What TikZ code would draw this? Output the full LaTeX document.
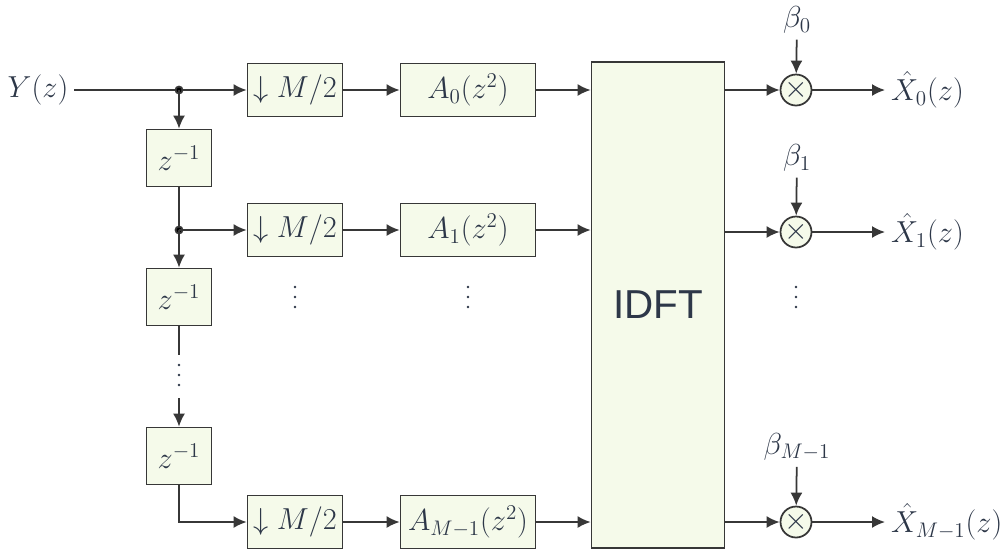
\documentclass[tikz,border=0pt]{standalone}
\usepackage{amsmath, amssymb}
\usepackage{fontspec}
\setsansfont{Liberation Sans}
\usepackage{tikz}
\usetikzlibrary{arrows.meta, calc}

\definecolor{boxfill}{RGB}{245,250,234}
\definecolor{ink}{RGB}{45,55,72}
\definecolor{wire}{RGB}{55,55,55}

\begin{document}
\begin{tikzpicture}[x=0.02cm, y=-0.02cm,
    every node/.style={text=ink, font=\fontsize{17}{20}\selectfont},
    blk/.style={draw=wire, line width=1pt, fill=boxfill, minimum height=1.06cm, inner sep=0pt},
    dnbox/.style={blk, minimum width=1.9cm},
    abox/.style={blk, minimum width=2.7cm},
    zbox/.style={blk, minimum width=1.3cm, minimum height=1.14cm},
    mult/.style={circle, draw=wire, line width=1pt, fill=boxfill, minimum size=0.48cm, inner sep=0pt},
    arr/.style={-{Latex[length=0.26cm, width=0.24cm]}, draw=wire, line width=1pt},
    wire/.style={draw=wire, line width=1pt}]
  \useasboundingbox (0,0) rectangle (1000,556);

  % Input and delay chain
  \node (y) at (38,90) {$Y(z)$};
  \node[zbox] (z1) at (179,158) {$z^{-1}$};
  \node[zbox] (z2) at (179,297) {$z^{-1}$};
  \node[zbox] (z3) at (179,456) {$z^{-1}$};

  % Branches
  \node[dnbox] (d0) at (295,90) {$\downarrow M/2$};
  \node[dnbox] (d1) at (295,230) {$\downarrow M/2$};
  \node[dnbox] (d2) at (295,522) {$\downarrow M/2$};
  \node[abox] (a0) at (468,90) {$A_0(z^2)$};
  \node[abox] (a1) at (468,230) {$A_1(z^2)$};
  \node[abox] (a2) at (468,522) {$A_{M-1}(z^2)$};

  % IDFT
  \node[blk, minimum width=2.66cm, minimum height=9.72cm] (idft) at (658,305)
    {\sffamily\fontsize{23}{26}\selectfont IDFT};

  % Weights and outputs
  \node[mult] (m0) at (796,90) {$\times$};
  \node[mult] (m1) at (796,232) {$\times$};
  \node[mult] (m2) at (796,522) {$\times$};
  \node (b0) at (797,20) {$\beta_0$};
  \node (b1) at (797,158) {$\beta_1$};
  \node (b2) at (797,447) {$\beta_{M-1}$};
  \node[anchor=west] (x0) at (885,90) {$\hat{X}_0(z)$};
  \node[anchor=west] (x1) at (885,232) {$\hat{X}_1(z)$};
  \node[anchor=west] (x2) at (885,522) {$\hat{X}_{M-1}(z)$};

  % Ellipses
  \foreach \x/\y in {295/287, 468/287, 796/287, 179/365} {
    \foreach \k in {0,10,20}
      \fill[ink] (\x,\y+\k) circle (0.028cm);
  }
  \coordinate (c2) at (179,355);
  \coordinate (c3) at (179,398);

  % Connections
  \coordinate (j0) at (z1 |- d0);
  \coordinate (j1) at (z1 |- d1);
  \draw[arr] (y) -- (d0);
  \fill[wire] (j0) circle (0.07cm);
  \draw[arr] (j0) -- (z1);
  \draw[wire] (z1) -- (j1);
  \fill[wire] (j1) circle (0.07cm);
  \draw[arr] (j1) -- (z2);
  \draw[arr] (j1) -- (d1);
  \draw[wire] (z2) -- (c2);
  \draw[arr] (c3) -- (z3);
  \draw[arr] (z3) |- (d2);

  \draw[arr] (d0) -- (a0);
  \draw[arr] (d1) -- (a1);
  \draw[arr] (d2) -- (a2);
  \draw[arr] (a0) -- (a0 -| idft.west);
  \draw[arr] (a1) -- (a1 -| idft.west);
  \draw[arr] (a2) -- (a2 -| idft.west);

  \draw[arr] (m0 -| idft.east) -- (m0);
  \draw[arr] (m1 -| idft.east) -- (m1);
  \draw[arr] (m2 -| idft.east) -- (m2);
  \draw[arr] (b0) -- (m0);
  \draw[arr] (b1) -- (m1);
  \draw[arr] (b2) -- (m2);
  \draw[arr] (m0) -- (x0);
  \draw[arr] (m1) -- (x1);
  \draw[arr] (m2) -- (x2);
\end{tikzpicture}
\end{document}
